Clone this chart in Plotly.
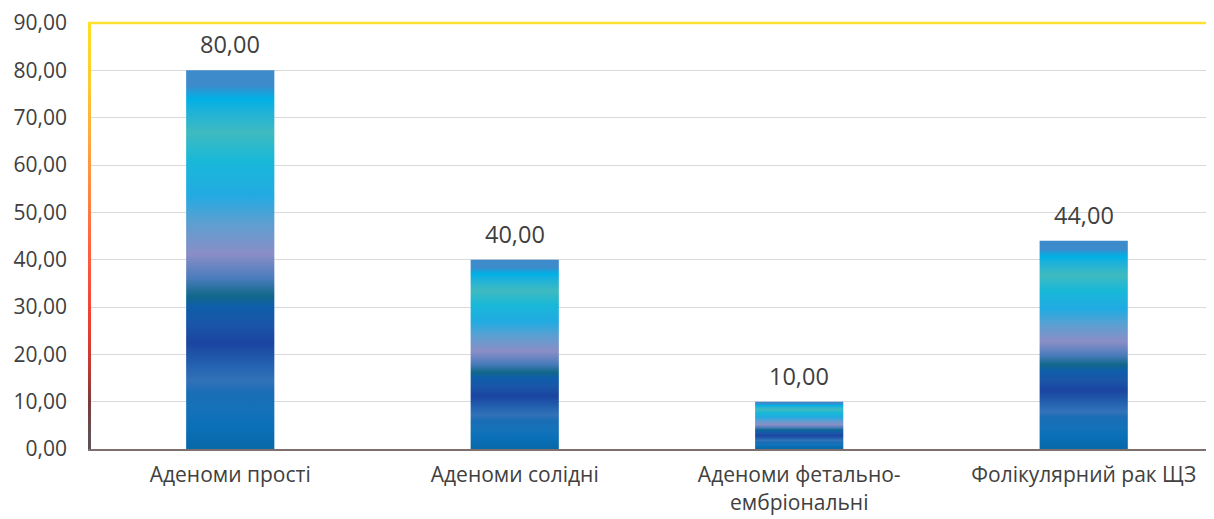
import plotly.graph_objects as go

categories = ["Аденоми прості", "Аденоми солідні", "Аденоми фетально-<br>ембріональні", "Фолікулярний рак ЩЗ"]
values = [80.0, 40.0, 10.0, 44.0]
y_ticks = [0, 10, 20, 30, 40, 50, 60, 70, 80, 90]

bar_scale = [
    [0.00, "#0868A8"], [0.06, "#0A70B8"], [0.10, "#1472B8"], [0.15, "#1A6EB6"],
    [0.18, "#3272B8"], [0.22, "#2462B0"], [0.28, "#1A45A0"], [0.33, "#1A56A8"],
    [0.376, "#0E5EAA"], [0.405, "#11688A"], [0.45, "#4A7CBC"], [0.515, "#8A8EC6"],
    [0.60, "#5AA0D2"], [0.67, "#22AAE2"], [0.76, "#18B8D8"], [0.835, "#3FBAC0"],
    [0.89, "#20B2D8"], [0.925, "#00B0E6"], [0.96, "#3D8BCB"], [1.00, "#3D8BCB"],
]
axis_scale = [
    [0.0, "#5A5058"], [0.03, "#605055"], [0.11, "#7A3A3A"], [0.19, "#C03830"],
    [0.31, "#F04030"], [0.47, "#FF6040"], [0.70, "#FFA040"], [0.85, "#FFC830"],
    [1.0, "#FFE020"],
]

half = 0.155
fig = go.Figure()
for i, v in enumerate(values):
    fig.add_trace(go.Scatter(
        x=[i - half, i + half, i + half, i - half, i - half],
        y=[0, 0, v, v, 0],
        mode="lines", fill="toself", line=dict(width=0),
        fillgradient=dict(type="vertical", colorscale=bar_scale, start=0, stop=v),
        hoverinfo="skip", showlegend=False,
    ))

for i, v in enumerate(values):
    fig.add_annotation(
        x=i, y=v, text=f"{v:.2f}".replace(".", ","), showarrow=False,
        yanchor="middle", yshift=26,
        font=dict(family="Open Sans", size=23.5, color="#404040"),
    )

# left gradient axis line
lx0 = -0.5
lw = 0.0105
fig.add_trace(go.Scatter(
    x=[lx0, lx0 + lw, lx0 + lw, lx0, lx0],
    y=[0, 0, 90, 90, 0],
    mode="lines", fill="toself", line=dict(width=0),
    fillgradient=dict(type="vertical", colorscale=axis_scale, start=0, stop=90),
    hoverinfo="skip", showlegend=False,
))

fig.add_shape(type="line", xref="paper", yref="paper", x0=0, x1=1, y0=1, y1=1,
              line=dict(color="#FFE030", width=2.5), layer="above")

fig.update_layout(
    width=1206, height=511,
    margin=dict(l=80, r=0, t=15, b=70),
    paper_bgcolor="white", plot_bgcolor="white",
    separators=",.",
    font=dict(family="Open Sans", color="#404040"),
    xaxis=dict(
        range=[-0.5, 3.458], tickmode="array",
        tickvals=list(range(len(categories))), ticktext=categories,
        showgrid=False, zeroline=False, showline=True, linecolor="#7F7070", linewidth=2,
        tickfont=dict(family="Open Sans", size=21, color="#404040"),
        ticks="", ticklabelstandoff=6,
    ),
    yaxis=dict(
        range=[0, 90], tickmode="array", tickvals=y_ticks[:-1], tickformat=".2f",
        showgrid=True, gridcolor="#D9D9D9", gridwidth=1, zeroline=False,
        showline=False, ticks="", ticklabelstandoff=20,
        tickfont=dict(family="Open Sans", size=21, color="#404040"),
    ),
)
# 90 label (no grid line under the yellow border)
fig.update_yaxes(tickvals=y_ticks)

fig.write_html("out.html")
